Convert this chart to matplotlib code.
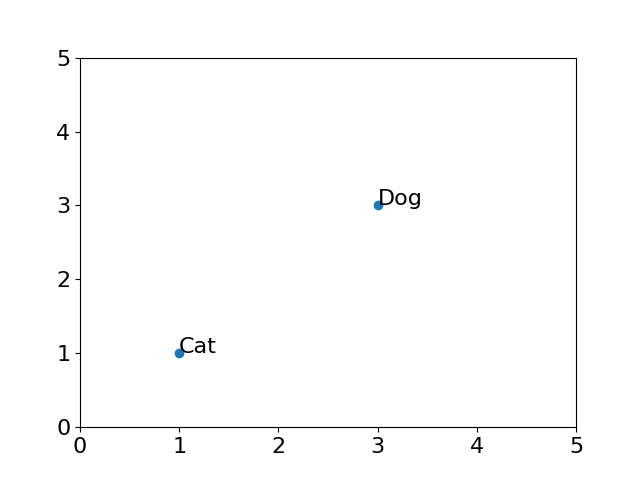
import matplotlib
matplotlib.use('Agg')
import matplotlib.pyplot as plt

# Data
names = ['Cat', 'Dog']
xs = [1, 3]
ys = [1, 3]

plt.rcParams['font.size'] = 16

fig, ax = plt.subplots(figsize=(6.4, 4.8), dpi=100)
ax.scatter(xs, ys)
for name, x, y in zip(names, xs, ys):
    ax.annotate(name, (x, y))

ax.set_xlim(0, 5)
ax.set_ylim(0, 5)
fig.savefig('out.png')
